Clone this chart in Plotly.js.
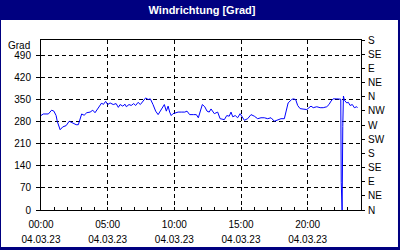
<!DOCTYPE html>
<html>
<head>
<meta charset="utf-8">
<script src="https://cdn.plot.ly/plotly-3.0.1.min.js"></script>
<style>
html,body{margin:0;padding:0;background:#000080;}
#chart{width:400px;height:250px;}
</style>
</head>
<body>
<div id="chart"></div>
<script>
// Data: minutes since midnight on 04.03.23 and wind direction in degrees
const day = '2023-03-04';
const minutesSinceMidnight = [
  0,10,33,48,58,68,73,86,98,113,127,141,158,168,176,183,194,206,221,233,
  243,253,262,273,280,291,300,311,325,338,348,356,368,378,384,396,406,417,426,437,
  447,459,471,482,492,504,516,527,537,546,555,564,572,579,586,594,606,617,631,647,
  657,669,687,699,708,717,726,737,747,757,765,780,795,806,825,836,847,855,863,874,
  885,896,905,915,930,945,960,975,990,1005,1020,1035,1050,1065,1080,1095,1103,1112,1128,1135,
  1146,1155,1166,1180,1196,1206,1215,1225,1241,1256,1270,1286,1296,1305,1315,1331,1341,1349,1351,1355,
  1358,1361,1365,1376,1383,1391,1401,1410,1421,1424
];
const directionDeg = [
  300,305,305,317,314,300,282,255,264,268,282,277,271,271,293,305,301,309,311,317,
  309,319,328,340,335,345,335,340,335,338,326,335,330,336,328,335,332,338,332,342,
  335,346,356,351,353,335,314,303,314,325,335,314,330,311,300,306,309,311,311,311,
  314,303,303,303,293,317,335,328,314,311,321,306,311,290,287,300,298,311,296,300,
  293,306,296,285,290,303,298,290,293,293,290,293,282,285,290,290,317,340,351,353,
  351,332,322,321,319,325,330,325,328,325,325,328,335,346,353,353,353,352,88,0,
  265,362,349,340,342,332,335,325,328,325
];
const timeTickHours = [0,5,10,15,20];
const timeTickLabels = ['00:00','05:00','10:00','15:00','20:00'];
const dateTickLabels = ['04.03.23','04.03.23','04.03.23','04.03.23','04.03.23'];
const degTickVals = [0,70,140,210,280,350,420,490];
const compassTickVals = [0,45,90,135,180,225,270,315,360,405,450,495,540];
const compassTickLabels = ['N','NE','E','SE','S','SW','W','NW','N','NE','E','SE','S'];

function pad(n){return (n<10?'0':'')+n;}
function stamp(min){return day+' '+pad(Math.floor(min/60))+':'+pad(min%60);}

const xs = minutesSinceMidnight.map(stamp);
const tickStamps = timeTickHours.map(h => stamp(h*60));
const xRange = [day+' 00:00', '2023-03-05 00:00'];
const FONT = 'Liberation Sans, Arial, sans-serif';

const trace = {
  x: xs, y: directionDeg, type: 'scatter', mode: 'lines',
  line: {color: '#0000ff', width: 1}, hoverinfo: 'skip', showlegend: false
};
// transparent copy so the secondary (date / compass) axes get drawn
const axisHolder = {
  x: xs, y: directionDeg, type: 'scatter', mode: 'lines', xaxis: 'x2', yaxis: 'y2',
  line: {color: 'rgba(0,0,0,0)', width: 0}, hoverinfo: 'skip', showlegend: false
};

const layout = {
  width: 400, height: 250,
  margin: {l: 41, r: 39, t: 40, b: 40, pad: 0},
  paper_bgcolor: '#000080',
  plot_bgcolor: '#ffffff',
  font: {family: FONT, size: 10, color: '#000000'},
  title: {text: '<b>Windrichtung [Grad]</b>', font: {family: FONT, size: 11, color: '#ffffff'},
          x: 0.505, xref: 'container', xanchor: 'center', y: 0.958, yref: 'container', yanchor: 'middle'},
  shapes: [{type: 'rect', xref: 'paper', yref: 'paper', x0: -0.125, x1: 1.1156, y0: -0.2176, y1: 1.1176,
            fillcolor: '#ffffff', line: {width: 0}, layer: 'below'}],
  xaxis: {
    type: 'date', range: xRange, tickmode: 'array', tickvals: tickStamps, ticktext: timeTickLabels,
    ticks: 'inside', ticklen: 3, tickcolor: '#000', showline: true, linecolor: '#000', linewidth: 1,
    mirror: true, showgrid: true, gridcolor: '#000', griddash: '4px,3px', gridwidth: 1, zeroline: false,
    minor: {tickmode: 'linear', tick0: day+' 00:00', dtick: 3600000, ticks: 'inside', ticklen: 3, tickcolor: '#000', showgrid: false},
    ticklabelstandoff: 5, fixedrange: true
  },
  xaxis2: {
    type: 'date', range: xRange, overlaying: 'x', anchor: 'y', side: 'bottom', tickmode: 'array',
    tickvals: tickStamps, ticktext: dateTickLabels, ticks: '', showline: false, showgrid: false,
    zeroline: false, ticklabelstandoff: 22, fixedrange: true
  },
  yaxis: {
    range: [0, 540], tickmode: 'array', tickvals: degTickVals, ticks: 'outside', ticklen: 4, tickcolor: '#000',
    showline: true, linecolor: '#000', linewidth: 1, showgrid: true, gridcolor: '#000', griddash: '4px,3px',
    gridwidth: 1, zeroline: false, fixedrange: true, ticklabelstandoff: 3
  },
  yaxis2: {
    range: [0, 540], overlaying: 'y', side: 'right', anchor: 'x', tickmode: 'array', tickvals: compassTickVals,
    ticktext: compassTickLabels, ticks: 'outside', ticklen: 3, tickcolor: '#000', showline: true,
    linecolor: '#000', linewidth: 1, showgrid: false, zeroline: false, fixedrange: true, ticklabelstandoff: 1
  },
  annotations: [{text: 'Grad', xref: 'paper', yref: 'paper', x: -0.028, y: 0.97, xanchor: 'right', yanchor: 'middle',
                 showarrow: false, font: {family: FONT, size: 10, color: '#000'}}]
};

Plotly.newPlot('chart', [trace, axisHolder], layout, {staticPlot: true, displayModeBar: false});
</script>
</body>
</html>
